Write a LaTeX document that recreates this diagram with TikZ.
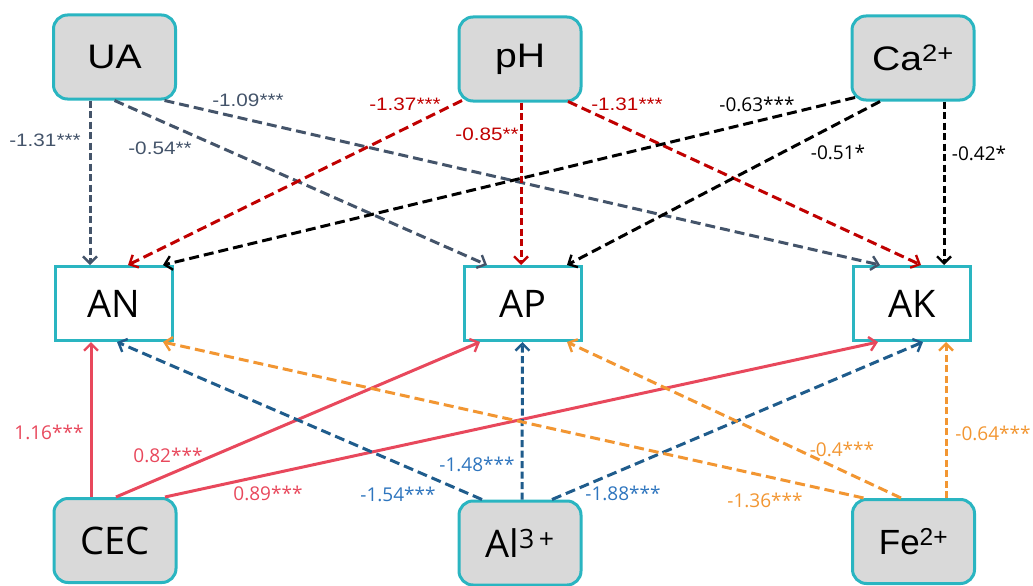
\documentclass[tikz,border=0pt]{standalone}
\usepackage{fontspec}
\setmainfont{Liberation Sans}
\newfontfamily\fa[FakeStretch=1.15]{Liberation Sans}
\newfontfamily\fo{Open Sans}
\usetikzlibrary{arrows.meta}
\definecolor{bordc}{RGB}{42,181,193}
\definecolor{boxgray}{RGB}{217,217,217}
\definecolor{cua}{RGB}{68,84,106}
\definecolor{cph}{RGB}{192,0,0}
\definecolor{cca}{RGB}{0,0,0}
\definecolor{ccec}{RGB}{232,72,92}
\definecolor{cal}{RGB}{31,92,140}
\definecolor{call}{RGB}{46,117,190}
\definecolor{cfe}{RGB}{242,150,50}
\begin{document}
\begin{tikzpicture}[x=1pt,y=-1pt]
\useasboundingbox (0,0) rectangle (1033,586);
\tikzset{
 src/.style={draw=bordc, line width=3pt, fill=boxgray, rounded corners=14pt, minimum width=122pt, minimum height=84pt, inner sep=0pt},
 tgt/.style={draw=bordc, line width=3pt, fill=white, minimum width=117pt, minimum height=74pt, inner sep=0pt, font=\fo\fontsize{38}{40}\selectfont},
 arr/.style={line width=3pt, -{Straight Barb[length=7pt,width=14pt,line width=2.4pt]}},
 dsh/.style={dash pattern=on 10pt off 5pt},
 vdsh/.style={dash pattern=on 7pt off 3.5pt},
 laba/.style={inner sep=0pt, font=\fa\fontsize{18}{20}\selectfont},
 labo/.style={inner sep=0pt, font=\fo\fontsize{19}{21}\selectfont},
}
% source nodes
\node[src, font=\fa\fontsize{34}{36}\selectfont] (UA) at (114.5,57) {UA};
\node[src, font=\fa\fontsize{34}{36}\selectfont] (pH) at (520,59) {pH};
\node[src, font=\fa\fontsize{34}{36}\selectfont] (Ca) at (913,58) {Ca\textsuperscript{2+}};
\node[src, font=\fo\fontsize{38}{40}\selectfont] (CEC) at (115,540.5) {CEC};
\node[src, font=\fo\fontsize{38}{40}\selectfont] (Al) at (520,543) {Al\textsuperscript{3\,+}};
\node[src, font=\fontsize{35}{37}\selectfont] (Fe) at (913.5,541.5) {Fe\textsuperscript{2+}};
% target nodes
\node[tgt] (AN) at (113.5,303.5) {AN};
\node[tgt] (AP) at (522.5,303.5) {AP};
\node[tgt] (AK) at (912,303.5) {AK};
% UA arrows
\draw[arr, vdsh, cua] ([xshift=-24.5pt]UA.south) -- ([xshift=-23.5pt]AN.north);
\draw[arr, dsh, cua] (UA.south) -- ([xshift=-35.5pt]AP.north);
\draw[arr, dsh, cua] ([xshift=50pt]UA.south) -- ([xshift=-32pt]AK.north);
% pH arrows
\draw[arr, dsh, cph] ([shift={(-58,-2)}]pH.south) -- ([xshift=14.5pt]AN.north);
\draw[arr, vdsh, cph] ([xshift=1pt]pH.south) -- ([xshift=-1.5pt]AP.north);
\draw[arr, dsh, cph] ([shift={(48,-1)}]pH.south) -- ([xshift=9pt]AK.north);
% Ca arrows
\draw[arr, dsh, cca] ([shift={(-58,-4)}]Ca.south) -- ([xshift=49.5pt]AN.north);
\draw[arr, dsh, cca] ([xshift=-33pt]Ca.south) -- ([xshift=44.5pt]AP.north);
\draw[arr, vdsh, cca] ([xshift=31pt]Ca.south) -- ([xshift=32pt]AK.north);
% CEC arrows
\draw[arr, ccec] ([xshift=-24pt]CEC.north) -- ([xshift=-22.5pt]AN.south);
\draw[arr, ccec] ([xshift=1pt]CEC.north) -- ([xshift=-42.5pt]AP.south);
\draw[arr, ccec] ([xshift=50pt]CEC.north) -- ([xshift=-34pt]AK.south);
% Al arrows
\draw[arr, dsh, cal] ([xshift=-38pt]Al.north) -- ([xshift=3.5pt]AN.south);
\draw[arr, vdsh, cal] ([xshift=2pt]Al.north) -- ([xshift=0pt]AP.south);
\draw[arr, dsh, cal] ([xshift=32pt]Al.north) -- ([xshift=11pt]AK.south);
% Fe arrows
\draw[arr, dsh, cfe] ([xshift=-50pt]Fe.north) -- ([xshift=49.5pt]AN.south);
\draw[arr, dsh, cfe] ([xshift=-12.5pt]Fe.north) -- ([xshift=44.5pt]AP.south);
\draw[arr, vdsh, cfe] ([xshift=32.5pt]Fe.north) -- ([xshift=34pt]AK.south);
% labels
\node[laba, cua] (l1) at (45,140) {-1.31***};
\node[laba, cua] (l2) at (248,100) {-1.09***};
\node[laba, cua] (l3) at (160,148) {-0.54**};
\node[laba, cph] (l4) at (405,104) {-1.37***};
\node[laba, cph] (l5) at (487,134) {-0.85**};
\node[laba, cph] (l6) at (627,104) {-1.31***};
\node[labo, cca] (l7) at (757,104) {-0.63***};
\node[labo, cca] (l8) at (838,152) {-0.51*};
\node[labo, cca] (l9) at (979,153) {-0.42*};
\node[labo, ccec] (l10) at (49,432) {1.16***};
\node[labo, ccec] (l11) at (168,455) {0.82***};
\node[labo, ccec] (l12) at (268,493) {0.89***};
\node[labo, call] (l13) at (398,494) {-1.54***};
\node[labo, call] (l14) at (477,464) {-1.48***};
\node[labo, call] (l15) at (623,493) {-1.88***};
\node[labo, cfe] (l16) at (842,449) {-0.4***};
\node[labo, cfe] (l17) at (765,500) {-1.36***};
\node[labo, cfe] (l18) at (993,433) {-0.64***};
\end{tikzpicture}
\end{document}
